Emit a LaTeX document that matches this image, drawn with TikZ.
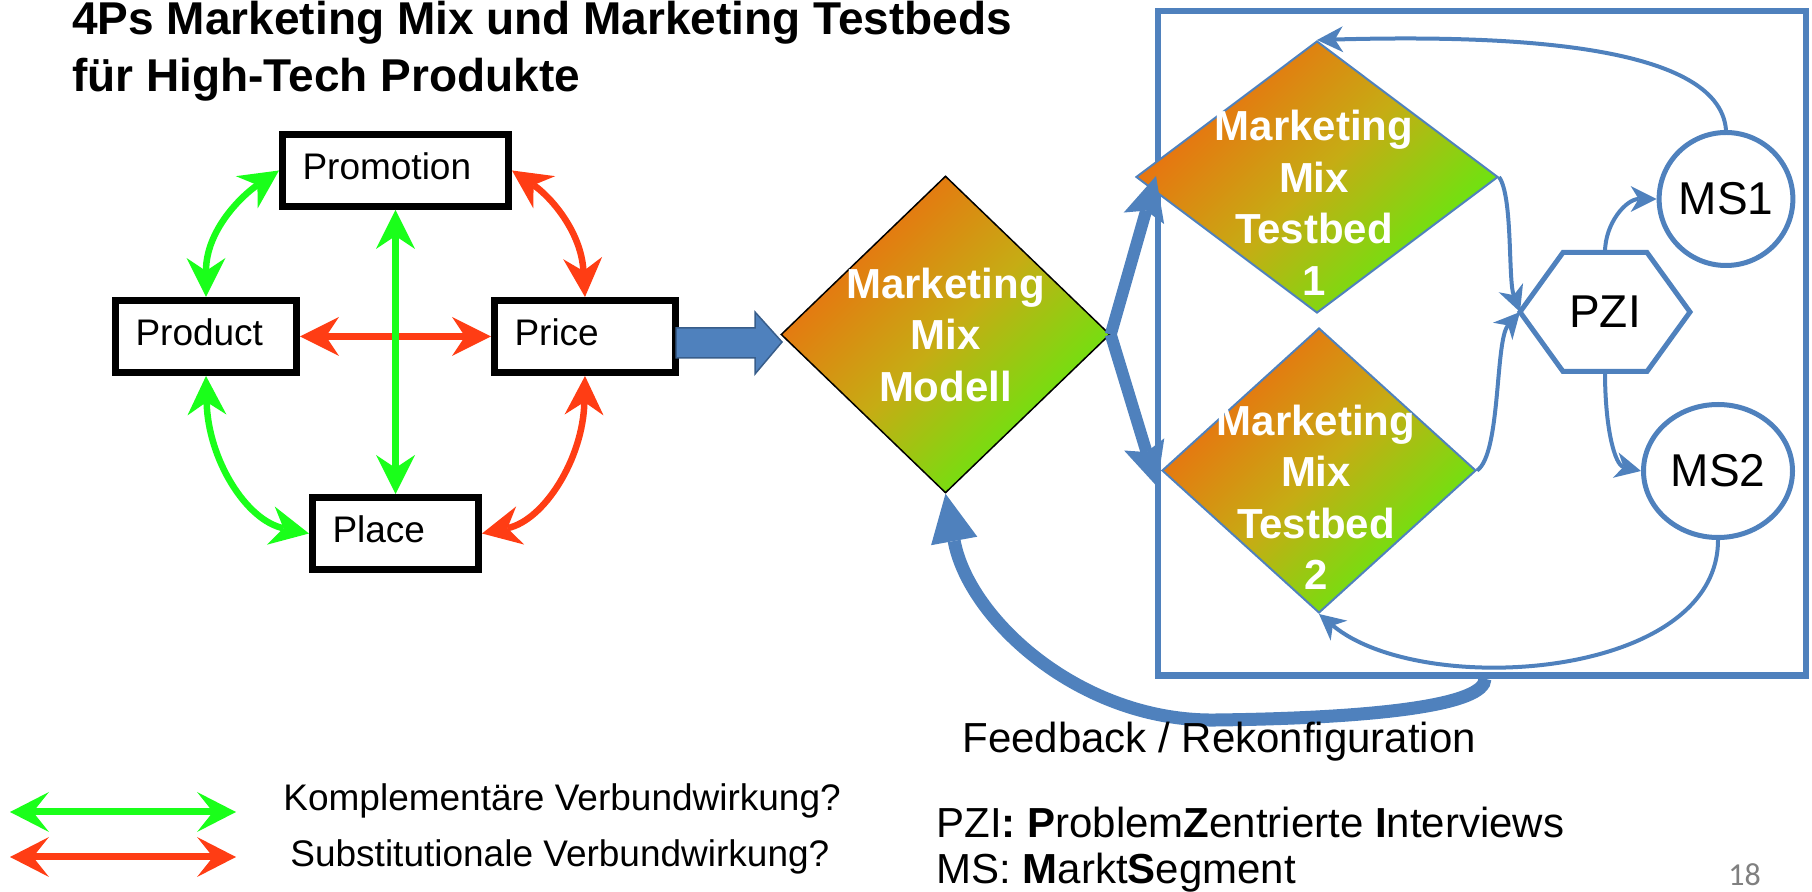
\documentclass[tikz,border=0pt]{standalone}
\usepackage{fontspec}
\setmainfont{Liberation Sans}
\newfontfamily\slidenum{Carlito}
\usepackage{tikz}
\usetikzlibrary{arrows.meta, calc, shapes.geometric}
\definecolor{complGreen}{RGB}{26,255,26}
\definecolor{substRed}{RGB}{255,61,20}
\definecolor{officeBlue}{RGB}{79,129,189}
\definecolor{officeBlueDark}{RGB}{56,93,138}
\definecolor{mixOrange}{RGB}{234,112,16}
\definecolor{mixMid}{RGB}{198,172,20}
\definecolor{mixGreen}{RGB}{102,232,16}
\definecolor{pageGray}{RGB}{128,128,128}
\pgfdeclarehorizontalshading{mixshade}{100bp}{color(0bp)=(mixOrange); color(28bp)=(mixOrange);
  color(50bp)=(mixMid); color(72bp)=(mixGreen); color(100bp)=(mixGreen)}
\tikzset{
  ptip/.tip={Stealth[length=19.5pt, width=19.5pt, inset=6.5pt, line width=0pt]},
  legtip/.tip={Stealth[length=19.5pt, width=20pt, inset=8pt, line width=0pt]},
  bigtip/.tip={Stealth[length=22pt, width=21pt, inset=4pt, line width=0pt]},
  fbtip/.tip={Triangle[length=24pt, width=23.5pt, line width=0pt]},
  smalltip/.tip={Stealth[length=13pt, width=13pt, inset=4pt, line width=0pt]},
  pbox/.style={draw=black, line width=3.5pt, minimum height=36pt, inner xsep=10pt,
    align=left, text depth=4pt, font=\fontsize{18.5}{22}\selectfont},
  compl/.style={draw=complGreen, line width=3.25pt, ptip-ptip},
  subst/.style={draw=substRed, line width=3.25pt, ptip-ptip},
  mixdiamond/.style={diamond, inner sep=0pt, shade, shading=mixshade, shading angle=-45},
  mixtext/.style={align=center, text=white, font=\bfseries\fontsize{21}{25.75}\selectfont},
  labbox/.style={draw=officeBlue, line width=3.25pt, inner sep=0pt},
  segnode/.style={ellipse, draw=officeBlue, line width=2.5pt, inner sep=0pt, font=\fontsize{23}{27}\selectfont},
  thinarr/.style={draw=officeBlue, line width=2pt, -smalltip},
  thickarr/.style={draw=officeBlue, line width=6pt, -bigtip},
  feedarr/.style={draw=officeBlue, line width=6.5pt, -fbtip},
  titletext/.style={anchor=base west, inner sep=0pt, font=\bfseries\fontsize{23}{28}\selectfont},
  legtext/.style={anchor=base west, inner sep=0pt, font=\fontsize{18.5}{22}\selectfont},
  notetext/.style={anchor=base west, inner sep=0pt, font=\fontsize{21}{25}\selectfont}
}

\begin{document}
\begin{tikzpicture}[x=0.5pt, y=-0.5pt, line join=miter]
  \useasboundingbox (0,0) rectangle (1812,892);

  \node[titletext] (title1) at (72,35) {4Ps Marketing Mix und Marketing Testbeds};
  \node[titletext] (title2) at (72,92) {für High-Tech Produkte};

  % die 4 P
  \node[pbox, text width=93pt] (promotion) at (395.5,170.5) {Promotion};
  \node[pbox, text width=70.5pt] (product) at (206,336.5) {Product};
  \node[pbox, text width=70.5pt] (price) at (585,336.5) {Price};
  \node[pbox, text width=63pt] (place) at (395.5,533.5) {Place};

  \draw[subst] (product.east) -- (price.west);
  \draw[compl] (promotion.south) -- (place.north);
  \draw[compl] (product.north) .. controls +(0,-67) and +(-37,25) .. (promotion.west);
  \draw[subst] (price.north) .. controls +(-4,-67) and +(37,25) .. (promotion.east);
  \draw[compl] (product.south) .. controls +(2,83) and +(-63,-13) .. (place.west);
  \draw[subst] (price.south) .. controls +(-2,83) and +(62,-13) .. (place.east);

  \draw[fill=officeBlue, draw=officeBlueDark, line width=0.75pt] ($(price.east)+(-3,-8.5)$) -- ++(79,0) -- ++(0,-16)
    -- ++(27,30) -- ++(-27,32) -- ++(0,-16) -- ++(-79,0) -- cycle;

  % Modell
  \node[mixdiamond, draw=black, line width=0.75pt, minimum width=164.5pt, minimum height=158.5pt] (model) at (945.5,334.5) {};
  \node[mixtext] (modeltext) at (model) {Marketing\\Mix\\Modell};

  % Testbeds
  \node[labbox, minimum width=324pt, minimum height=332.25pt] (lab) at (1482,343.25) {};
  \node[mixdiamond, draw=officeBlue, line width=1pt, minimum width=181pt, minimum height=136pt] (tb1) at (1317,177) {};
  \node[mixtext] (tb1text) at ($(tb1)+(-3,26)$) {Marketing\\Mix\\Testbed\\1};
  \node[mixdiamond, draw=officeBlue, line width=1pt, minimum width=157pt, minimum height=142.5pt] (tb2) at (1319,470.5) {};
  \node[mixtext] (tb2text) at ($(tb2)+(-3,27)$) {Marketing\\Mix\\Testbed\\2};

  \node[font=\fontsize{23}{27}\selectfont] (pzi) at (1605,312) {PZI};
  \draw[draw=officeBlue, line width=2.5pt] ($(pzi)+(-85,0)$) coordinate (pziW) -- ++(43,-59.5) -- ++(84,0)
    -- ++(43,59.5) -- ++(-43,59.5) -- ++(-84,0) -- cycle;
  \coordinate (pziN) at ($(pzi)+(0,-59.5)$);
  \coordinate (pziS) at ($(pzi)+(0,59.5)$);

  \node[segnode, minimum width=66.5pt, minimum height=66.5pt] (ms1) at (1726,199) {MS1};
  \node[segnode, minimum width=74.5pt, minimum height=66.5pt] (ms2) at (1718,471) {MS2};

  \draw[thinarr] (ms1.north) .. controls +(-7,-88) and +(183,-5) .. (tb1.north);
  \draw[thinarr] (tb1.east) .. controls +(14,19) and +(-12,-32) .. (pziW);
  \draw[thinarr] (tb2.east) .. controls +(24,-16) and +(-25,28) .. (pziW);
  \draw[thinarr] (pziN) .. controls +(0,-30) and +(-30,0) .. (ms1.west);
  \draw[thinarr] (pziS) .. controls +(0,58) and +(-26,-6) .. (ms2.west);
  \draw[thinarr] (ms2.south) .. controls +(0,140) and +(102,85) .. (tb2.south);

  \draw[thickarr] (model.east) -- ($(tb1.west)+(21,-1)$);
  \draw[thickarr] (model.east) -- ($(tb2.west)+(-4,16)$);

  % Rueckkopplung
  \coordinate (fbbend) at (1216,720);
  \draw[feedarr] ($(lab.south)+(3,0)$) .. controls +(0,26) and +(164,-2) .. (fbbend)
    .. controls +(-136,2) and +(23,125) .. (model.south);

  % Legende
  \draw[draw=complGreen, line width=3.5pt, legtip-legtip] (10,812) -- (236,812);
  \draw[draw=substRed, line width=3.5pt, legtip-legtip] (10,857) -- (236,857);
  \node[legtext] (legcompl) at (283,811) {Komplementäre Verbundwirkung?};
  \node[legtext] (legsubst) at (290,867) {Substitutionale Verbundwirkung?};

  \node[notetext] (feedback) at (962,753) {Feedback / Rekonfiguration};
  \node[notetext] (pzinote) at (936,838) {PZI\textbf{: P}roblem\textbf{Z}entrierte \textbf{I}nterviews};
  \node[notetext] (msnote) at (936,884) {MS: \textbf{M}arkt\textbf{S}egment};
  \node[anchor=base west, inner sep=0pt, text=pageGray, font=\slidenum\fontsize{16}{19}\selectfont] (pagenum) at (1728,886) {18};
\end{tikzpicture}
\end{document}
